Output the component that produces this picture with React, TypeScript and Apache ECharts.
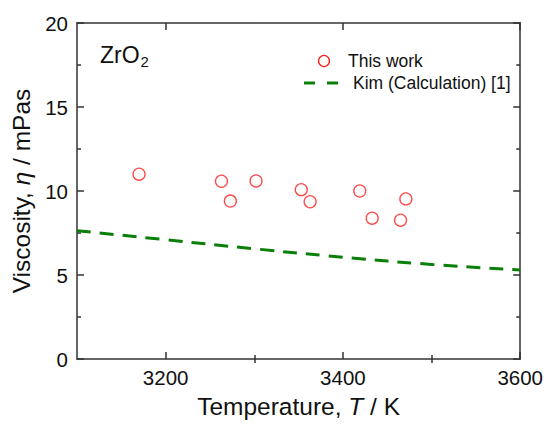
import React, { useEffect, useRef } from "react";
import * as echarts from "echarts";

const temps = [3170, 3263, 3273, 3302, 3353, 3363, 3419, 3433, 3465, 3471];
const viscosity = [11.0, 10.58, 9.4, 10.6, 10.08, 9.36, 10.0, 8.38, 8.26, 9.53];
const kimT = [3100, 3200, 3300, 3400, 3500, 3600];
const kimEta = [7.64, 7.1, 6.56, 6.06, 5.63, 5.3];
const xMajor = [3200, 3400, 3600];
const xMinor = [3300, 3500];
const legendNames = ["This work", "Kim (Calculation) [1]"];

const FONT = "'Liberation Sans', Arial, sans-serif";
const AX = "#333333";
const TXT = "#111111";

export default function App() {
  const ref = useRef<HTMLDivElement>(null);
  useEffect(() => {
    if (!ref.current) return;
    const chart = echarts.init(ref.current, undefined, { renderer: "svg" });
    const baseX = {
      type: "value",
      min: 3100,
      max: 3600,
      interval: 100,
      splitLine: { show: false },
    };
    const baseY = {
      type: "value",
      min: 0,
      max: 20,
      interval: 5,
      splitLine: { show: false },
    };
    const lineStyle = { color: AX, width: 1.5 };
    chart.setOption({
      animation: false,
      textStyle: { fontFamily: FONT },
      grid: { left: 77, top: 23, right: 25, bottom: 59, containLabel: false },
      xAxis: [
        {
          ...baseX,
          position: "bottom",
          axisLine: { show: true, onZero: false, lineStyle },
          axisTick: { show: true, inside: true, length: 7, customValues: xMajor, lineStyle },
          axisLabel: {
            show: true,
            customValues: xMajor,
            formatter: (v: number) => String(v),
            fontSize: 20.5,
            color: TXT,
            margin: 8,
            fontFamily: FONT,
          },
          name: "{a|Temperature, }{i|T}{a| / K}",
          nameLocation: "middle",
          nameGap: 35,
          nameTextStyle: {
            rich: {
              a: { fontSize: 24.5, color: TXT, fontFamily: FONT },
              i: { fontSize: 24.5, color: TXT, fontStyle: "italic", fontFamily: FONT },
            },
          },
        },
        {
          ...baseX,
          position: "bottom",
          axisLine: { show: false },
          axisTick: { show: true, inside: true, length: 4, customValues: xMinor, lineStyle },
          axisLabel: { show: false },
        },
        {
          ...baseX,
          position: "top",
          axisLine: { show: true, onZero: false, lineStyle },
          axisTick: { show: true, inside: true, length: 7, customValues: xMajor, lineStyle },
          axisLabel: { show: false },
        },
        {
          ...baseX,
          position: "top",
          axisLine: { show: false },
          axisTick: { show: true, inside: true, length: 4, customValues: xMinor, lineStyle },
          axisLabel: { show: false },
        },
      ],
      yAxis: [
        {
          ...baseY,
          position: "left",
          axisLine: { show: true, onZero: false, lineStyle },
          axisTick: { show: true, inside: true, length: 7, lineStyle },
          minorTick: { show: true, splitNumber: 2, length: 4, lineStyle },
          axisLabel: { fontSize: 20.5, color: TXT, margin: 9, fontFamily: FONT },
          name: "{a|Viscosity, }{i|η}{a| / mPas}",
          nameLocation: "middle",
          nameGap: 43,
          nameRotate: 90,
          nameTextStyle: {
            rich: {
              a: { fontSize: 24.5, color: TXT, fontFamily: FONT },
              i: { fontSize: 24.5, color: TXT, fontStyle: "italic", fontFamily: FONT },
            },
          },
        },
        {
          ...baseY,
          position: "right",
          axisLine: { show: true, onZero: false, lineStyle },
          axisTick: { show: true, inside: true, length: 7, lineStyle },
          minorTick: { show: true, splitNumber: 2, length: 4, lineStyle },
          axisLabel: { show: false },
        },
      ],
      series: [
        {
          name: legendNames[1],
          type: "line",
          data: kimT.map((t, i) => [t, kimEta[i]]),
          smooth: true,
          showSymbol: false,
          lineStyle: { color: "#0a800a", width: 3, type: [14, 9] },
          z: 2,
        },
        {
          name: legendNames[0],
          type: "scatter",
          data: temps.map((t, i) => [t, viscosity[i]]),
          symbol: "circle",
          symbolSize: 12,
          itemStyle: { color: "rgba(0,0,0,0)", borderColor: "#ff1a1a", borderWidth: 1.3 },
          z: 3,
        },
      ],
      graphic: [
        {
          type: "text",
          x: 100,
          y: 40,
          style: {
            text: "{a|ZrO}{s|2}",
            rich: {
              a: { fontSize: 23, fill: TXT, fontFamily: FONT },
              s: { fontSize: 15, fill: TXT, fontFamily: FONT, padding: [14, 0, 0, 1] },
            },
          },
        },
        {
          type: "circle",
          shape: { cx: 324, cy: 61, r: 5.5 },
          style: { fill: "none", stroke: "#ff1a1a", lineWidth: 1.3 },
        },
        {
          type: "text",
          x: 348,
          y: 61,
          style: { text: legendNames[0], fontSize: 17.5, fill: TXT, fontFamily: FONT, verticalAlign: "middle" },
        },
        {
          type: "line",
          shape: { x1: 304, y1: 83, x2: 315, y2: 83 },
          style: { stroke: "#0a800a", lineWidth: 3 },
        },
        {
          type: "line",
          shape: { x1: 327, y1: 83, x2: 338, y2: 83 },
          style: { stroke: "#0a800a", lineWidth: 3 },
        },
        {
          type: "text",
          x: 353,
          y: 83,
          style: { text: legendNames[1], fontSize: 17.5, fill: TXT, fontFamily: FONT, verticalAlign: "middle" },
        },
      ],
    });
    return () => chart.dispose();
  }, []);
  return <div ref={ref} style={{ width: 546, height: 424, position: "absolute", left: 0, top: 0 }} />;
}
